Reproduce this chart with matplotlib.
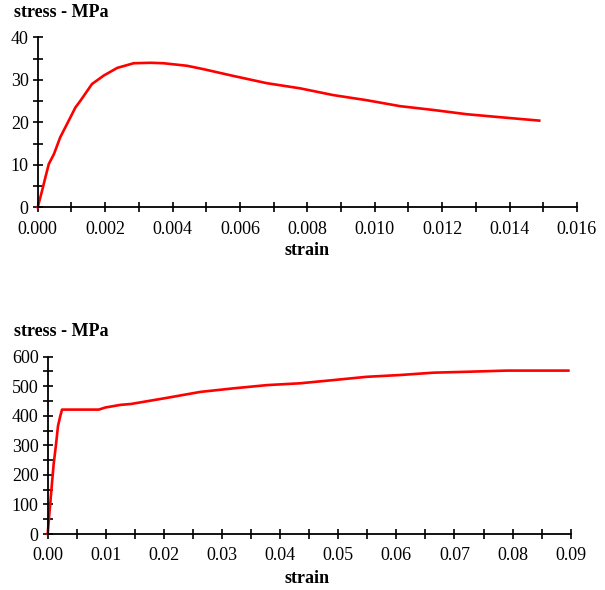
import matplotlib.pyplot as plt
from matplotlib.ticker import MultipleLocator, FormatStrFormatter

# Concrete curve (top panel)
concrete_strain = [0.0, 0.00013, 0.00023, 0.00033, 0.00048, 0.00067, 0.00087, 0.00112,
                   0.00127, 0.00161, 0.00196, 0.00236, 0.00285, 0.00335, 0.00373, 0.00443,
                   0.00492, 0.00581, 0.0068, 0.00778, 0.00877, 0.00976, 0.01075, 0.01174,
                   0.01273, 0.01372, 0.01488]
concrete_stress = [0.0, 3.9, 7.1, 10.2, 12.5, 16.5, 19.6, 23.5,
                   25.1, 29.0, 31.0, 32.8, 33.9, 34.0, 33.9, 33.3,
                   32.5, 30.9, 29.2, 28.0, 26.4, 25.2, 23.8, 22.9,
                   21.9, 21.2, 20.4]

# Steel curve (bottom panel)
steel_strain = [0.0, 0.00029, 0.00063, 0.00103, 0.00144, 0.00178, 0.00218, 0.00247,
                0.0088, 0.0099, 0.0125, 0.0143, 0.02, 0.0263, 0.032, 0.0378,
                0.0434, 0.0492, 0.0549, 0.0606, 0.0664, 0.0721, 0.079, 0.0896]
steel_stress = [0, 68, 147, 237, 304, 366, 400, 421,
                421, 428, 437, 440, 459, 481, 493, 504,
                510, 521, 532, 538, 546, 549, 553, 553]

plt.rcParams['font.family'] = ['Liberation Serif']
plt.rcParams['font.size'] = 13

fig = plt.figure(figsize=(6.05, 5.9), dpi=100)


def style_axes(ax, xmax, xmajor, ymax, ymajor, xfmt):
    ax.set_xlim(0, xmax)
    ax.set_ylim(0, ymax)
    for side in ["top", "right"]:
        ax.spines[side].set_visible(False)
    for side in ["left", "bottom"]:
        ax.spines[side].set_linewidth(1.3)
    ax.xaxis.set_major_locator(MultipleLocator(xmajor))
    ax.xaxis.set_minor_locator(MultipleLocator(xmajor / 2))
    ax.yaxis.set_major_locator(MultipleLocator(ymajor))
    ax.yaxis.set_minor_locator(MultipleLocator(ymajor / 2))
    ax.xaxis.set_major_formatter(FormatStrFormatter(xfmt))
    ax.tick_params(which="both", direction="inout", length=7, width=1.2, color="black")
    ax.tick_params(axis="x", pad=6)
    ax.tick_params(axis="y", pad=3)
    ax.set_facecolor("none")


# Top panel
ax1 = fig.add_axes([0.0623, 0.6486, 0.8914, 0.2882])
ax1.plot(concrete_strain, concrete_stress, color="#ff0000", linewidth=1.9, clip_on=False)
style_axes(ax1, 0.016, 0.002, 40, 10, "%.3f")
fig.text(0.023, 0.978, "stress - MPa", fontsize=13, fontweight="bold", va="center")
fig.text(0.507, 0.576, "strain", fontsize=13, fontweight="bold", ha="center", va="center")

# Bottom panel
ax2 = fig.add_axes([0.0788, 0.0949, 0.8645, 0.3005])
ax2.plot(steel_strain, steel_stress, color="#ff0000", linewidth=1.9, clip_on=False)
style_axes(ax2, 0.09, 0.01, 600, 100, "%.2f")
fig.text(0.023, 0.438, "stress - MPa", fontsize=13, fontweight="bold", va="center")
fig.text(0.507, 0.02, "strain", fontsize=13, fontweight="bold", ha="center", va="center")

plt.savefig("out.png", dpi=100)
